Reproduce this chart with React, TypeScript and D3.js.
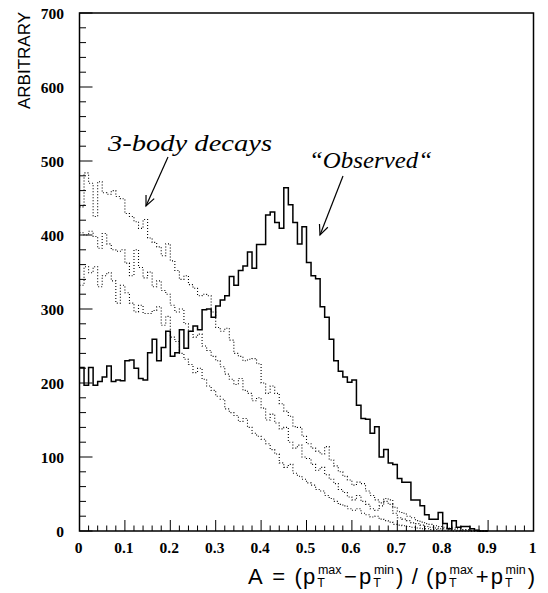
import * as d3 from 'd3'

// bin width of every histogram (100 bins on 0..1)
const BIN = 0.01

// "Observed" asymmetry distribution
const observed = [
  221, 197, 221, 197, 202, 208, 223, 202, 204, 203,
  230, 231, 220, 206, 204, 241, 259, 230, 248, 270,
  236, 241, 272, 247, 270, 277, 272, 299, 300, 289,
  304, 312, 318, 344, 332, 352, 358, 377, 355, 387,
  387, 427, 431, 417, 409, 464, 441, 417, 388, 411,
  363, 345, 341, 303, 289, 259, 230, 216, 208, 201,
  204, 170, 152, 151, 132, 141, 100, 110, 92, 90,
  71, 66, 66, 42, 42, 34, 22, 16, 16, 25,
  10, 3, 14, 5, 6, 6, 3, 1, 0, 0,
]

// 3-body decay samples (dotted)
const threeBodyA = [
  438, 484, 470, 425, 472, 457, 455, 460, 452, 449,
  429, 425, 418, 409, 421, 396, 390, 384, 372, 388,
  365, 352, 340, 345, 333, 328, 318, 320, 318, 296,
  275, 270, 274, 258, 240, 236, 230, 232, 233, 226,
  200, 186, 196, 186, 172, 162, 155, 141, 140, 128,
  118, 112, 108, 104, 114, 96, 88, 80, 74, 69,
  62, 66, 64, 54, 48, 42, 38, 44, 42, 32,
  26, 24, 20, 18, 14, 12, 10, 9, 7, 6,
  5, 4, 4, 3, 2, 2, 1, 1, 0, 0,
]

const threeBodyB = [
  403, 400, 405, 398, 382, 402, 388, 380, 378, 380,
  362, 345, 380, 356, 342, 350, 330, 338, 325, 320,
  305, 296, 300, 280, 270, 262, 266, 250, 244, 236,
  230, 222, 212, 205, 198, 206, 190, 186, 176, 180,
  166, 150, 158, 146, 138, 140, 120, 112, 116, 100,
  98, 90, 82, 86, 76, 70, 64, 56, 52, 46,
  42, 48, 40, 36, 30, 28, 34, 40, 36, 24,
  18, 16, 14, 11, 10, 8, 6, 5, 4, 3,
  3, 2, 2, 1, 1, 1, 0, 0, 0, 0,
]

const threeBodyC = [
  332, 357, 349, 357, 330, 345, 349, 338, 308, 332,
  322, 308, 296, 305, 294, 294, 298, 303, 278, 290,
  262, 256, 240, 232, 225, 214, 220, 205, 196, 190,
  182, 178, 165, 160, 156, 148, 152, 140, 132, 128,
  124, 118, 110, 104, 92, 86, 90, 78, 74, 70,
  65, 62, 56, 54, 48, 44, 40, 36, 34, 30,
  28, 30, 24, 22, 19, 20, 16, 14, 12, 9,
  8, 7, 6, 5, 4, 3, 3, 2, 2, 1,
  1, 1, 0, 0, 0, 0, 0, 0, 0, 0,
]

const xTickLabels = ['0', '0.1', '0.2', '0.3', '0.4', '0.5', '0.6', '0.7', '0.8', '0.9', '1']
const yTickLabels = ['0', '100', '200', '300', '400', '500', '600', '700']

const W = 548
const H = 593
const left = 79.5
const right = 533.5
const top = 13
const bottom = 531

const x = d3.scaleLinear().domain([0, 1]).range([left, right])
const y = d3.scaleLinear().domain([0, 700]).range([bottom, top])

function stepPath(values: number[]) {
  const pts: [number, number][] = []
  values.forEach((v, i) => {
    pts.push([i * BIN, v], [(i + 1) * BIN, v])
  })
  return d3
    .line<[number, number]>()
    .x(d => x(d[0]))
    .y(d => y(d[1]))(pts) || ''
}

function Arrow({ x1, y1, x2, y2 }: { x1: number; y1: number; x2: number; y2: number }) {
  const a = Math.atan2(y2 - y1, x2 - x1)
  const len = 11
  const spread = 0.42
  const p1 = [x2 - len * Math.cos(a - spread), y2 - len * Math.sin(a - spread)]
  const p2 = [x2 - len * Math.cos(a + spread), y2 - len * Math.sin(a + spread)]
  return (
    <g stroke="#000" strokeWidth={1.2} fill="none">
      <line x1={x1} y1={y1} x2={x2} y2={y2} />
      <polyline points={`${p1[0]},${p1[1]} ${x2},${y2} ${p2[0]},${p2[1]}`} />
    </g>
  )
}

export default function App() {
  const xMajor = xTickLabels.map(t => +t)
  const xMinor = d3.range(0, 1.0001, 0.02).filter(v => Math.abs(v * 10 - Math.round(v * 10)) > 1e-6)
  const yMajor = yTickLabels.map(t => +t)
  const yMinor = d3.range(0, 700, 20).filter(v => v % 100 !== 0)

  // title pieces laid out on an em grid
  const em = 25.7
  const x0 = 248
  const mainFs = 22
  const subFs = 12.5
  const titleY = 584
  const title: { t: string; at: number; kind: 'main' | 'sub' | 'sup' }[] = [
    { t: 'A', at: 0, kind: 'main' },
    { t: '=', at: 0.945, kind: 'main' },
    { t: '(', at: 1.807, kind: 'main' },
    { t: 'p', at: 2.14, kind: 'main' },
    { t: 'T', at: 2.696, kind: 'sub' },
    { t: 'max', at: 2.72, kind: 'sup' },
    { t: '\u2212', at: 3.736, kind: 'main' },
    { t: 'p', at: 4.32, kind: 'main' },
    { t: 'T', at: 4.876, kind: 'sub' },
    { t: 'min', at: 4.9, kind: 'sup' },
    { t: ')', at: 5.762, kind: 'main' },
    { t: '/', at: 6.373, kind: 'main' },
    { t: '(', at: 6.929, kind: 'main' },
    { t: 'p', at: 7.262, kind: 'main' },
    { t: 'T', at: 7.818, kind: 'sub' },
    { t: 'max', at: 7.84, kind: 'sup' },
    { t: '+', at: 8.858, kind: 'main' },
    { t: 'p', at: 9.442, kind: 'main' },
    { t: 'T', at: 9.998, kind: 'sub' },
    { t: 'min', at: 10.02, kind: 'sup' },
    { t: ')', at: 10.884, kind: 'main' },
  ]

  return (
    <svg
      width={W}
      height={H}
      style={{ position: 'absolute', left: 0, top: 0, background: '#fff' }}
    >
      <rect x={0} y={0} width={W} height={H} fill="#fff" />

      {/* dotted 3-body histograms */}
      {[threeBodyA, threeBodyB, threeBodyC].map((s, i) => (
        <path
          key={i}
          d={stepPath(s)}
          fill="none"
          stroke="#000"
          strokeWidth={1.1}
          strokeDasharray="1 2"
        />
      ))}

      {/* observed histogram */}
      <path d={stepPath(observed)} fill="none" stroke="#000" strokeWidth={1.5} />

      {/* frame */}
      <rect
        x={left}
        y={top}
        width={right - left}
        height={bottom - top}
        fill="none"
        stroke="#000"
        strokeWidth={1.5}
      />

      {/* x ticks */}
      {xMajor.map(v => (
        <line key={'xM' + v} x1={x(v)} x2={x(v)} y1={bottom} y2={bottom - 11} stroke="#000" strokeWidth={1} />
      ))}
      {xMinor.map(v => (
        <line key={'xm' + v} x1={x(v)} x2={x(v)} y1={bottom} y2={bottom - 5.5} stroke="#000" strokeWidth={1} />
      ))}
      {/* y ticks */}
      {yMajor.map(v => (
        <line key={'yM' + v} x1={left} x2={left + 13} y1={y(v)} y2={y(v)} stroke="#000" strokeWidth={1} />
      ))}
      {yMinor.map(v => (
        <line key={'ym' + v} x1={left} x2={left + 6.5} y1={y(v)} y2={y(v)} stroke="#000" strokeWidth={1} />
      ))}

      {/* tick labels */}
      <g fontFamily="'Liberation Serif', 'Times New Roman', serif" fontWeight="bold" fontSize={15.5} fill="#000">
        {xTickLabels.map(t => (
          <text key={t} x={x(+t) - 1} y={553} textAnchor="middle">
            {t}
          </text>
        ))}
        {yTickLabels.map(t => (
          <text key={t} x={64} y={y(+t)} textAnchor="end" dominantBaseline="central">
            {t}
          </text>
        ))}
      </g>

      {/* y title */}
      <text
        transform="translate(30,12) rotate(-90)"
        textAnchor="end"
        fontFamily="'Liberation Sans', Arial, sans-serif"
        fontSize={17}
      >
        ARBITRARY
      </text>

      {/* x title */}
      <g fontFamily="'Liberation Sans', Arial, sans-serif" fill="#000">
        {title.map((p, i) => (
          <text
            key={i}
            x={x0 + p.at * em}
            y={p.kind === 'main' ? titleY : p.kind === 'sub' ? titleY + 3 : titleY - 10}
            fontSize={p.kind === 'main' ? mainFs : subFs}
          >
            {p.t}
          </text>
        ))}
      </g>

      {/* annotations */}
      <g fontFamily="'Liberation Serif', 'Times New Roman', serif" fontStyle="italic" fontSize={24} fill="#000">
        <text x={108} y={151} textLength={164} lengthAdjust="spacingAndGlyphs">
          3-body decays
        </text>
        <text x={309} y={168} textLength={123} lengthAdjust="spacingAndGlyphs">
          {'\u201cObserved\u201c'}
        </text>
      </g>
      <Arrow x1={168} y1={157} x2={146} y2={206} />
      <Arrow x1={343} y1={176} x2={320} y2={235} />
    </svg>
  )
}
